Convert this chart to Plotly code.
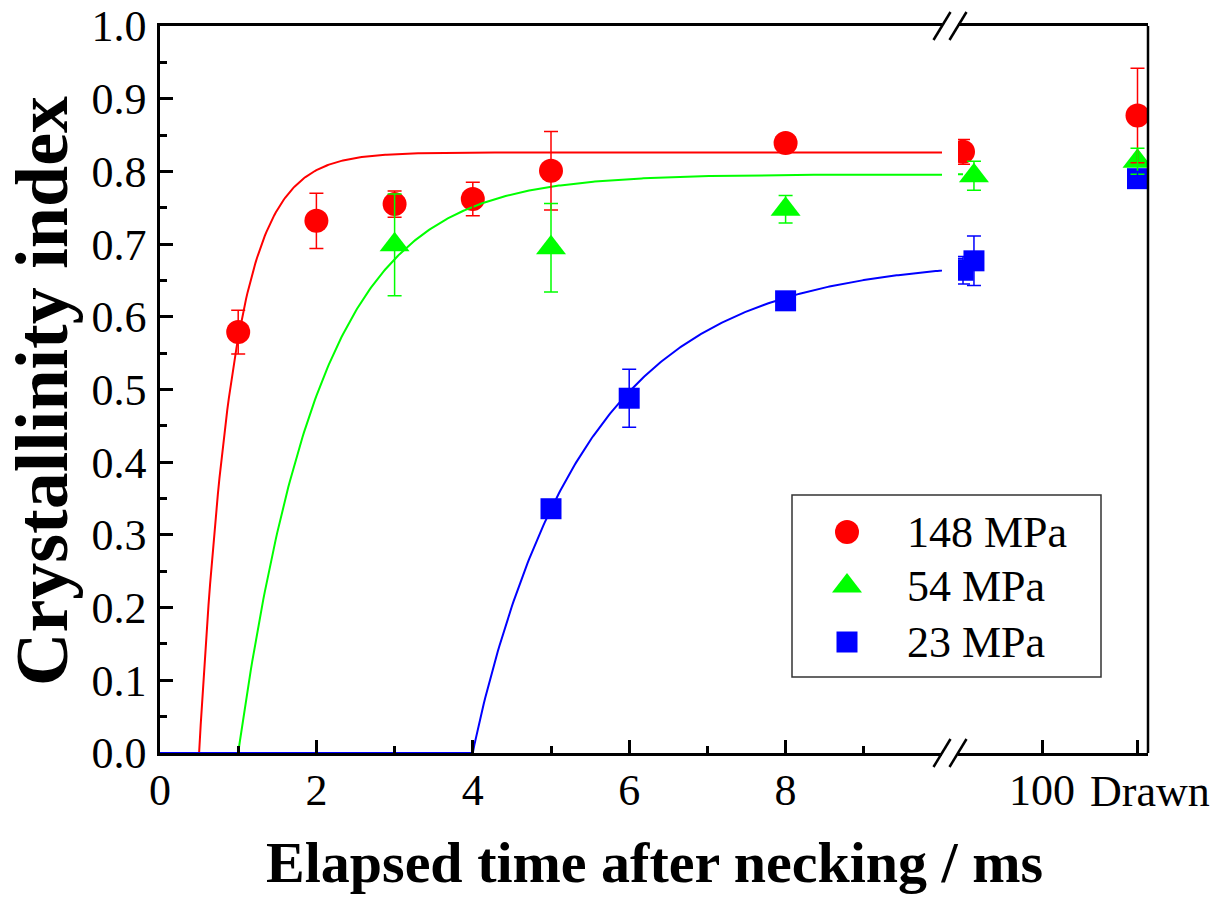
import numpy as np
import plotly.graph_objects as go

FONT = "Liberation Serif, Times New Roman, serif"
RED, GREEN, BLUE = "#ff0000", "#00ff00", "#0000ff"

# ---- measured crystallinity index, linear section (time in ms) ----
t_148 = [1, 2, 3, 4, 5, 8]
ci_148 = [0.579, 0.732, 0.755, 0.762, 0.801, 0.839]
err_148 = [0.030, 0.038, 0.018, 0.023, 0.054, 0.010]

t_54 = [3, 5, 8]
ci_54 = [0.699, 0.695, 0.748]
err_54 = [0.070, 0.061, 0.019]

t_23 = [5, 6, 8]
ci_23 = [0.336, 0.488, 0.622]
err_23 = [0.010, 0.040, 0.010]

# ---- long-time section (log scale, ms); the drawn fibre sits at DRAWN_POS ----
DRAWN_POS = 700
late_t_148 = [20, DRAWN_POS]
late_ci_148 = [0.827, 0.877]
late_err_148 = [0.017, 0.065]

late_t_54 = [25, DRAWN_POS]
late_ci_54 = [0.794, 0.814]
late_err_54 = [0.020, 0.018]

late_t_23 = [20, 25, DRAWN_POS]
late_ci_23 = [0.664, 0.677, 0.790]
late_err_23 = [0.019, 0.034, 0.010]

# ---- Avrami-type fits: X = X_inf * (1 - exp(-k (t - t0)^n)) ----
fit_148 = dict(x_inf=0.826, k=2.35, n=1.00, t0=0.5)
fit_54 = dict(x_inf=0.796, k=0.96, n=1.00, t0=1.0)
fit_23 = dict(x_inf=0.680, k=0.68, n=0.95, t0=4.0)

x_ticks = [0, 2, 4, 6, 8]
x_minor_ticks = [1, 3, 5, 7, 9]
late_ticks = [100, DRAWN_POS]
late_tick_text = ["100", ""]
DRAWN_LABEL = "Drawn"

labels = ["148 MPa", "54 MPa", "23 MPa"]
colors = [RED, GREEN, BLUE]
symbols = ["circle", "triangle-up", "square"]
sizes = [24, 26, 21]


def avrami(t, p):
    dt = np.clip(np.asarray(t, dtype=float) - p["t0"], 0, None)
    return p["x_inf"] * (1.0 - np.exp(-p["k"] * dt ** p["n"]))


# plot-area geometry in pixels
W, H = 1224, 906
L, R, T, B = 160, 1148, 26, 753
PW, PH = R - L, B - T


def px(x):
    return (x - L) / PW


def py(y):
    return (B - y) / PH


split_left = px(942)
split_right = px(958)

fig = go.Figure()

early = [(t_148, ci_148, err_148), (t_54, ci_54, err_54), (t_23, ci_23, err_23)]
late = [(late_t_148, late_ci_148, late_err_148),
        (late_t_54, late_ci_54, late_err_54),
        (late_t_23, late_ci_23, late_err_23)]
fits = [fit_148, fit_54, fit_23]

# markers
for (t, c, e), (lt, lc, le), col, sym, sz, lab in zip(early, late, colors, symbols, sizes, labels):
    for xs, ys, xa in ((t, c, "x"), (lt, lc, "x2")):
        fig.add_trace(go.Scatter(
            x=xs, y=ys, xaxis=xa, yaxis="y", mode="markers", name=lab,
            marker=dict(symbol=sym, size=sz, color=col, line=dict(width=0)),
            showlegend=False, cliponaxis=True))

# fitted curves
t_grid = np.linspace(0, 20, 1001)
t_late = np.linspace(10, 20, 101)
for p, col in zip(fits, colors):
    fig.add_trace(go.Scatter(x=t_grid, y=avrami(t_grid, p), xaxis="x", yaxis="y",
                             mode="lines", line=dict(color=col, width=2),
                             showlegend=False))
    fig.add_trace(go.Scatter(x=t_late, y=avrami(t_late, p), xaxis="x2", yaxis="y",
                             mode="lines", line=dict(color=col, width=2),
                             showlegend=False))

# error bars on top
for (t, c, e), (lt, lc, le), col in zip(early, late, colors):
    for xs, ys, es, xa in ((t, c, e, "x"), (lt, lc, le, "x2")):
        fig.add_trace(go.Scatter(
            x=xs, y=ys, xaxis=xa, yaxis="y", mode="markers",
            marker=dict(size=1, opacity=0, color=col),
            error_y=dict(type="data", array=es, visible=True, color=col,
                         thickness=1.5, width=7),
            showlegend=False))

# legend drawn in its own small box
lg_x0, lg_x1, lg_y0, lg_y1 = 792, 1101, 495, 677
row_y = [532, 586, 642]
for lab, col, sym, sz, ry in zip(labels, colors, symbols, sizes, row_y):
    fig.add_trace(go.Scatter(
        x=[(847 - lg_x0) / (lg_x1 - lg_x0)], y=[(lg_y1 - ry) / (lg_y1 - lg_y0)],
        xaxis="x3", yaxis="y3", mode="markers",
        marker=dict(symbol=sym, size=sz, color=col, line=dict(width=0)),
        showlegend=False))

annotations = []
for lab, ry in zip(labels, row_y):
    annotations.append(dict(
        x=(905 - lg_x0) / (lg_x1 - lg_x0), y=(lg_y1 - ry) / (lg_y1 - lg_y0),
        xref="x3", yref="y3", text=lab, showarrow=False,
        xanchor="left", yanchor="middle",
        font=dict(family=FONT, size=44, color="black")))

# label of the drawn-sample tick, set slightly right of its tick
annotations.append(dict(
    x=np.log10(DRAWN_POS), y=py(791), xref="x2", yref="paper",
    text=DRAWN_LABEL, showarrow=False, xanchor="center", yanchor="middle",
    xshift=12, font=dict(family=FONT, size=44, color="black")))

annotations.append(dict(
    x=px(654), y=py(862), xref="paper", yref="paper",
    text="<b>Elapsed time after necking / ms</b>", showarrow=False,
    xanchor="center", yanchor="middle",
    font=dict(family=FONT, size=58, color="black")))
annotations.append(dict(
    x=px(42), y=py(391), xref="paper", yref="paper",
    text="<b>Crystallinity index</b>", showarrow=False, textangle=-90,
    xanchor="center", yanchor="middle",
    font=dict(family=FONT, size=74, color="black")))

LW = 2.5
shapes = [
    # right frame edge
    dict(type="line", xref="paper", yref="paper", x0=1, x1=1, y0=0, y1=1,
         line=dict(color="black", width=LW)),
    # legend border
    dict(type="rect", xref="paper", yref="paper",
         x0=px(lg_x0), x1=px(lg_x1), y0=py(lg_y1), y1=py(lg_y0),
         line=dict(color="#333333", width=1.5)),
]
# axis-break marks at the bottom and top edges
for cy in (B, T):
    for cx in (942, 958):
        shapes.append(dict(type="line", xref="paper", yref="paper",
                           x0=px(cx - 8.5), y0=py(cy + 14),
                           x1=px(cx + 8.5), y1=py(cy - 14),
                           line=dict(color="black", width=LW)))

tick_font = dict(family=FONT, size=44, color="black")
common_x = dict(showgrid=False, zeroline=False, showline=True, linewidth=LW,
                linecolor="black", mirror=True, ticks="inside", ticklen=13,
                tickwidth=LW, tickcolor="black", tickfont=tick_font,
                tickangle=0, ticklabelstandoff=-4, automargin=False)

fig.update_layout(
    template="none",
    width=W, height=H,
    margin=dict(l=L, r=W - R, t=T, b=H - B, autoexpand=False),
    paper_bgcolor="white", plot_bgcolor="white",
    showlegend=False,
    xaxis=dict(domain=[0, split_left], range=[0, 10], anchor="y",
               tickmode="array", tickvals=x_ticks,
               minor=dict(tickmode="array", tickvals=x_minor_ticks,
                          ticks="inside", ticklen=7, tickwidth=LW,
                          tickcolor="black", showgrid=False),
               **common_x),
    xaxis2=dict(domain=[split_right, 1], type="log",
                range=[np.log10(18.06), np.log10(867)], anchor="y",
                tickmode="array", tickvals=late_ticks, ticktext=late_tick_text,
                **common_x),
    yaxis=dict(range=[0, 1], anchor="x", showgrid=False, zeroline=False,
               showline=True, linewidth=LW, linecolor="black",
               ticks="inside", ticklen=13, tickwidth=LW, tickcolor="black",
               tickmode="linear", tick0=0, dtick=0.1, tickformat=".1f",
               minor=dict(ticks="inside", ticklen=7, tickwidth=LW,
                          tickcolor="black", dtick=0.05, showgrid=False),
               tickfont=tick_font, ticklabelstandoff=2, automargin=False),
    xaxis3=dict(domain=[px(lg_x0), px(lg_x1)], range=[0, 1], anchor="y3",
                visible=False, fixedrange=True),
    yaxis3=dict(domain=[py(lg_y1), py(lg_y0)], range=[0, 1], anchor="x3",
                visible=False, fixedrange=True),
    annotations=annotations,
    shapes=shapes,
)

fig.write_html("out.html")
